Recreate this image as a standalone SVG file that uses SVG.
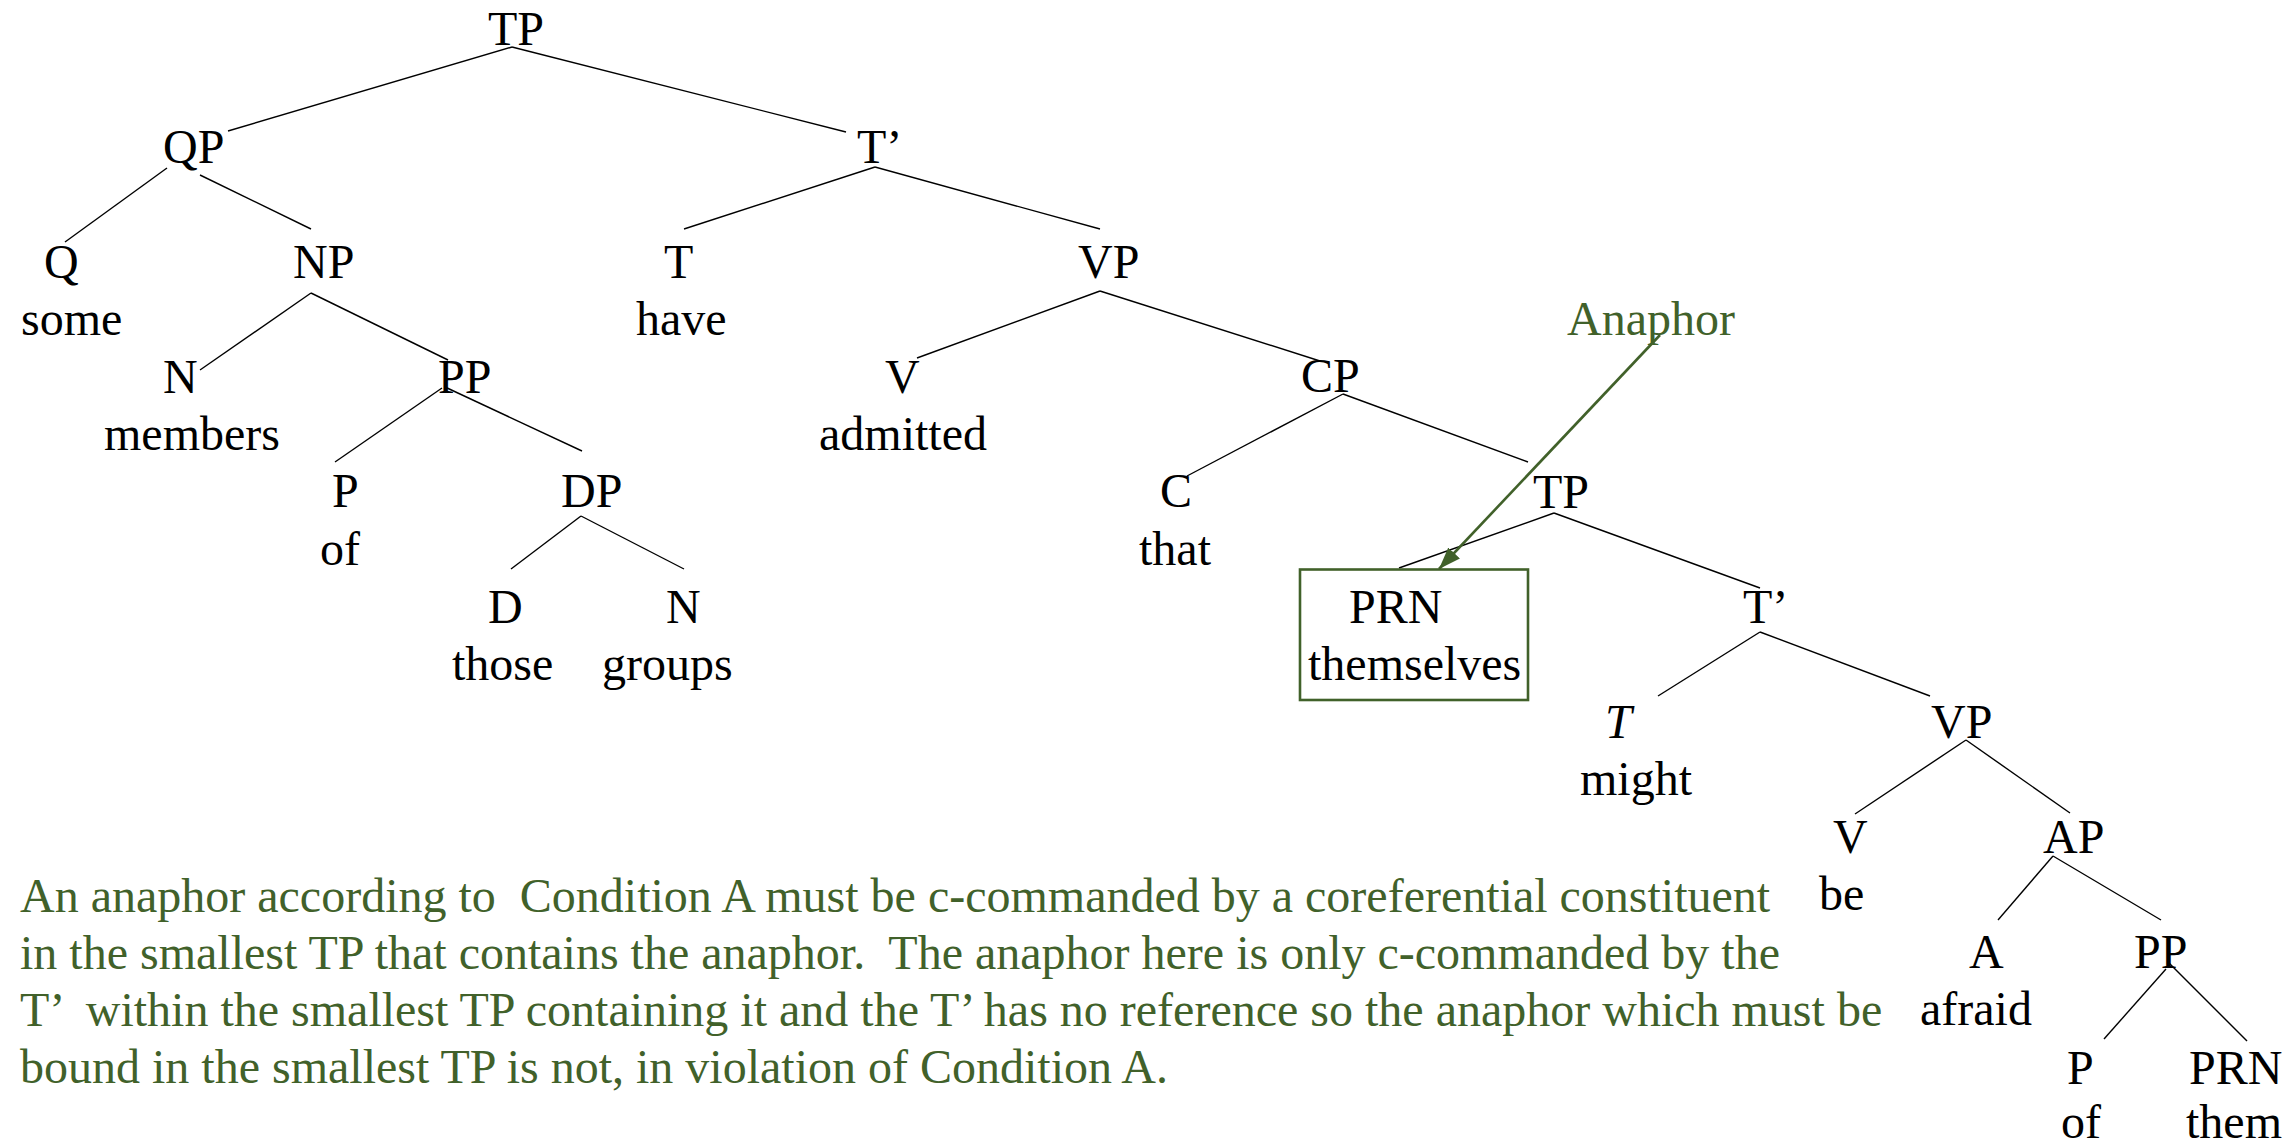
<svg xmlns="http://www.w3.org/2000/svg" width="2294" height="1146" viewBox="0 0 2294 1146">
<style>
text{font-family:"Liberation Serif","Times New Roman",serif;font-size:48px;fill:#000}
.g{fill:#41612a}
.e line{stroke:#000;stroke-width:1.4}
.box{fill:none;stroke:#41612a;stroke-width:2.6}
.arr{stroke:#41612a;stroke-width:2.6;fill:none}
.p{white-space:pre}
</style>
<defs>
<marker id="ah" markerUnits="userSpaceOnUse" markerWidth="24" markerHeight="18" refX="22" refY="8" orient="auto" viewBox="0 0 24 16">
<path d="M0,0 L22,8 L0,16 Z" fill="#41612a"/>
</marker>
</defs>
<rect width="2294" height="1146" fill="#fff"/>
<g id="edges" class="e">
<line x1="512" y1="47" x2="228" y2="131"/>
<line x1="512" y1="47" x2="846" y2="132"/>
<line x1="167" y1="168" x2="65" y2="242"/>
<line x1="200" y1="175" x2="311" y2="229"/>
<line x1="875" y1="167" x2="684" y2="229"/>
<line x1="875" y1="167" x2="1100" y2="229"/>
<line x1="311" y1="293" x2="200" y2="370"/>
<line x1="311" y1="293" x2="448" y2="360"/>
<line x1="1100" y1="291" x2="917" y2="358"/>
<line x1="1100" y1="291" x2="1320" y2="361"/>
<line x1="442" y1="388" x2="335" y2="462"/>
<line x1="445" y1="387" x2="582" y2="451"/>
<line x1="1343" y1="394" x2="1187" y2="476"/>
<line x1="1343" y1="394" x2="1528" y2="462"/>
<line x1="581" y1="516" x2="511" y2="569"/>
<line x1="581" y1="516" x2="684" y2="569"/>
<line x1="1554" y1="513" x2="1399" y2="568"/>
<line x1="1554" y1="513" x2="1760" y2="588"/>
<line x1="1760" y1="632" x2="1658" y2="696"/>
<line x1="1760" y1="632" x2="1930" y2="696"/>
<line x1="1966" y1="740" x2="1855" y2="814"/>
<line x1="1966" y1="740" x2="2070" y2="813"/>
<line x1="2053" y1="856" x2="1998" y2="920"/>
<line x1="2053" y1="856" x2="2161" y2="920"/>
<line x1="2166" y1="969" x2="2104" y2="1039"/>
<line x1="2169" y1="963" x2="2247" y2="1041"/>
</g>
<g id="n-tp"><text x="488" y="45">TP</text></g>
<g id="n-qp"><text x="163" y="163">QP</text></g>
<g id="n-tbar"><text x="857" y="163">T’</text></g>
<g id="n-q"><text x="44" y="278">Q</text><text x="21" y="335">some</text></g>
<g id="n-np"><text x="293" y="278">NP</text></g>
<g id="n-t"><text x="664" y="278">T</text><text x="636" y="335">have</text></g>
<g id="n-vp"><text x="1078" y="278">VP</text></g>
<g id="n-n"><text x="163" y="393">N</text><text x="104" y="450">members</text></g>
<g id="n-pp"><text x="438" y="393">PP</text></g>
<g id="n-v"><text x="885" y="393">V</text><text x="819" y="450">admitted</text></g>
<g id="n-cp"><text x="1301" y="392">CP</text></g>
<g id="n-p"><text x="332" y="507">P</text><text x="320" y="565">of</text></g>
<g id="n-dp"><text x="561" y="507">DP</text></g>
<g id="n-c"><text x="1160" y="507">C</text><text x="1139" y="565">that</text></g>
<g id="n-tp2"><text x="1533" y="508">TP</text></g>
<g id="n-d"><text x="488" y="623">D</text><text x="452" y="680">those</text></g>
<g id="n-n2"><text x="666" y="623">N</text><text x="602" y="680">groups</text></g>
<g id="n-prn"><rect class="box" x="1300" y="569.5" width="228" height="130.5"/><text x="1349" y="623">PRN</text><text x="1308" y="680">themselves</text></g>
<g id="n-tbar2"><text x="1743" y="623">T’</text></g>
<g id="n-t2"><text x="1605" y="738" font-style="italic">T</text><text x="1580" y="795">might</text></g>
<g id="n-vp2"><text x="1931" y="738">VP</text></g>
<g id="n-v2"><text x="1833" y="853">V</text><text x="1819" y="910">be</text></g>
<g id="n-ap"><text x="2043" y="853">AP</text></g>
<g id="n-a"><text x="1969" y="968">A</text><text x="1920" y="1025">afraid</text></g>
<g id="n-pp2"><text x="2134" y="968">PP</text></g>
<g id="n-p2"><text x="2067" y="1084">P</text><text x="2061" y="1138">of</text></g>
<g id="n-prn2"><text x="2189" y="1084">PRN</text><text x="2186" y="1138">them</text></g>
<g id="n-anaphor"><text class="g" x="1567" y="335">Anaphor</text></g>
<g id="arrow"><line class="arr" x1="1660" y1="335" x2="1439" y2="569" marker-end="url(#ah)"/></g>
<g id="note" class="g">
<text class="g p" x="20" y="912" xml:space="preserve">An anaphor according to  Condition A must be c-commanded by a coreferential constituent</text>
<text class="g p" x="20" y="969" xml:space="preserve">in the smallest TP that contains the anaphor.  The anaphor here is only c-commanded by the</text>
<text class="g p" x="20" y="1026" xml:space="preserve">T’  within the smallest TP containing it and the T’ has no reference so the anaphor which must be</text>
<text class="g p" x="20" y="1083" xml:space="preserve">bound in the smallest TP is not, in violation of Condition A.</text>
</g>
</svg>
